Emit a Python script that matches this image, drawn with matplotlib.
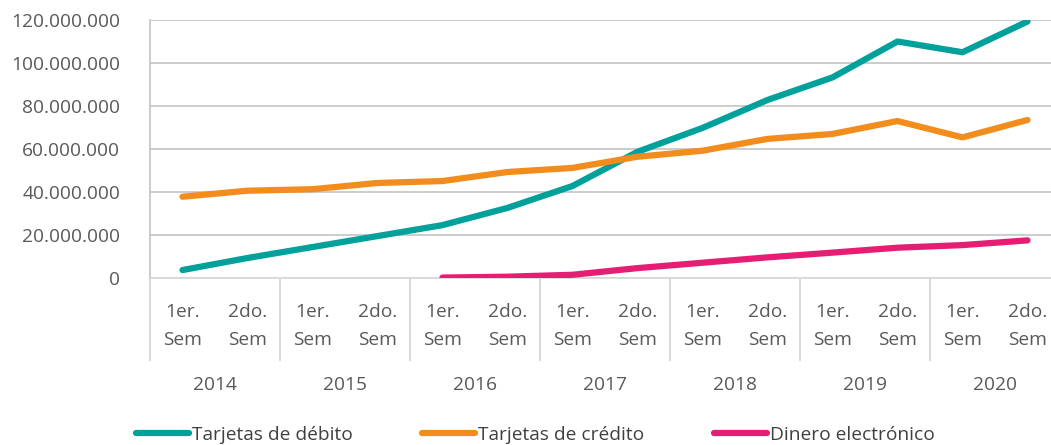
import matplotlib
matplotlib.use("Agg")
import matplotlib.pyplot as plt
import numpy as np
from matplotlib.lines import Line2D
import matplotlib.transforms as mtransforms

plt.rcParams['font.family'] = ['Open Sans', 'DejaVu Sans']

years = ["2014", "2015", "2016", "2017", "2018", "2019", "2020"]
semesters = ["1er.\nSem", "2do.\nSem"]
debito = [3.7e6, 9.3e6, 14.4e6, 19.5e6, 24.6e6, 32.6e6, 42.8e6, 58.7e6, 69.8e6, 82.8e6, 93.3e6, 110.0e6, 105.0e6, 119.3e6]
credito = [37.8e6, 40.6e6, 41.3e6, 44.2e6, 45.1e6, 49.3e6, 51.2e6, 56.4e6, 59.2e6, 64.7e6, 67.0e6, 73.0e6, 65.4e6, 73.5e6]
dinero = [None, None, None, None, 0.2e6, 0.6e6, 1.5e6, 4.6e6, 7.1e6, 9.6e6, 11.8e6, 14.1e6, 15.3e6, 17.5e6]
yticks = [0, 20e6, 40e6, 60e6, 80e6, 100e6, 120e6]
series_names = ["Tarjetas de débito", "Tarjetas de crédito", "Dinero electrónico"]
colors = ["#00A19A", "#F28C1C", "#E61E73"]

W, H = 1051, 445
fig = plt.figure(figsize=(W/100, H/100), dpi=100)
left, right, top, bottom = 150, 1060, 20, 278
ax = fig.add_axes([left/W, 1-bottom/H, (right-left)/W, (bottom-top)/H])

n = len(debito)
x = np.arange(n)
for vals, c in zip([debito, credito, dinero], colors):
    v = np.array([np.nan if a is None else a for a in vals], dtype=float)
    ax.plot(x, v, color=c, lw=4.5, solid_capstyle='round', solid_joinstyle='round', zorder=3)

FS = 13.8
TC = "#595959"
ax.set_xlim(-0.5, n-0.5)
ax.set_ylim(0, 120e6)
ax.set_yticks(yticks)
ax.set_yticklabels([f"{int(t):,}".replace(",", ".") for t in yticks], fontsize=FS, color=TC)
ax.tick_params(axis='y', length=0, pad=21.5)
ax.set_xticks([])
ax.grid(axis='y', color="#C8C8C8", lw=1.3)
ax.set_axisbelow(True)
for s in ['top', 'right']:
    ax.spines[s].set_visible(False)
ax.spines['left'].set_color("#C8C8C8")
ax.spines['left'].set_linewidth(1.3)
ax.spines['bottom'].set_color("#D9D9D9")
ax.spines['bottom'].set_linewidth(1.3)

trans = mtransforms.blended_transform_factory(ax.transData, ax.transAxes)
px = 1.0/(bottom-top)
div_bottom = -(360-bottom)*px
for k in range(len(years)+1):
    xd = -0.5 + 2*k
    ax.add_line(Line2D([xd, xd], [0, div_bottom], transform=trans, color="#D9D9D9", lw=1.5, clip_on=False))

for i in range(n):
    ax.text(i, -(326-bottom)*px, semesters[i % 2], transform=trans, ha='center', va='center',
            fontsize=FS, color=TC, linespacing=1.65)
for k, yname in enumerate(years):
    ax.text(2*k+0.5, -(385-bottom)*px, yname, transform=trans, ha='center', va='center',
            fontsize=FS, color=TC)

handles = [Line2D([], [], color=c, lw=4.5, solid_capstyle='round') for c in colors]
leg = fig.legend(handles, series_names, loc='center left', bbox_to_anchor=(136/W, 1-435/H), ncol=3,
                 frameon=False, fontsize=FS, handlelength=2.75, handletextpad=0.15, columnspacing=3.65,
                 borderpad=0, borderaxespad=0)
for t in leg.get_texts():
    t.set_color("#404040")

fig.savefig("out.png", dpi=100)
